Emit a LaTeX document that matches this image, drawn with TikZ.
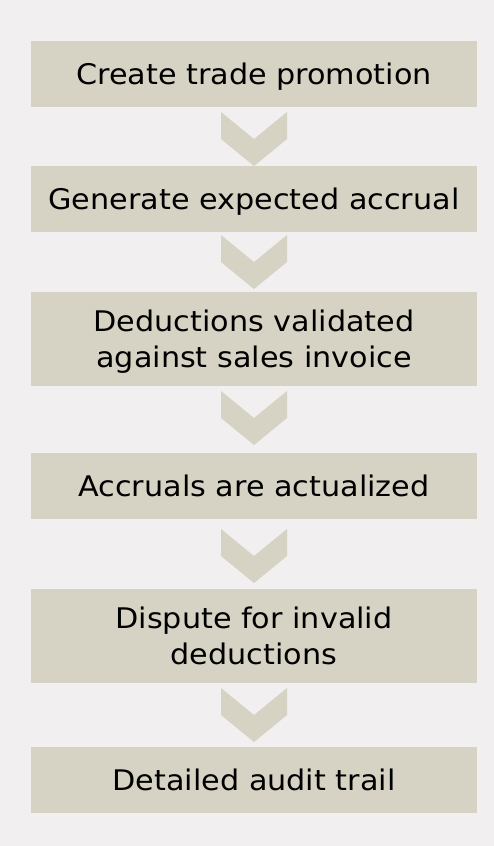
\documentclass[tikz,border=0pt]{standalone}
\usepackage{fontspec}
\setmainfont{DejaVu Sans}[FakeStretch=1.065]
\definecolor{bgc}{RGB}{241,239,239}
\definecolor{tan}{RGB}{214,211,196}
\tikzset{
  box/.style={rectangle, fill=tan, draw=none, minimum width=446pt, inner sep=0pt},
  txt/.style={anchor=base, align=center, inner sep=0pt, font=\fontsize{28.4}{36.6}\selectfont, text=black},
  chev/.pic={\fill[tan] (-33,0) -- (0,27) -- (33,0) -- (33,27) -- (0,54) -- (-33,27) -- cycle;}
}
\begin{document}
\begin{tikzpicture}[x=1pt, y=-1pt]
\fill[bgc] (0,0) rectangle (494,846);
\useasboundingbox (0,0) rectangle (494,846);
% boxes
\node[box, minimum height=66pt] (b1) at (254,74) {};
\node[box, minimum height=66pt] (b2) at (254,199) {};
\node[box, minimum height=94pt] (b3) at (254,339) {};
\node[box, minimum height=66pt] (b4) at (254,486) {};
\node[box, minimum height=94pt] (b5) at (254,636) {};
\node[box, minimum height=66pt] (b6) at (254,780) {};
% texts
\node[txt] (t1) at ([yshift=-10.3pt]b1.center) {Create trade promotion};
\node[txt] (t2) at ([yshift=-10.3pt]b2.center) {Generate expected accrual};
\node[txt] (t3) at ([yshift=-28.6pt]b3.center) {Deductions validated\\against sales invoice};
\node[txt] (t4) at ([yshift=-10.3pt]b4.center) {Accruals are actualized};
\node[txt] (t5) at ([yshift=-28.6pt]b5.center) {Dispute for invalid\\deductions};
\node[txt] (t6) at ([yshift=-10.3pt]b6.center) {Detailed audit trail};
% chevrons
\pic at (254,112) {chev};
\pic at (254,235) {chev};
\pic at (254,391) {chev};
\pic at (254,529) {chev};
\pic at (254,688) {chev};
\end{tikzpicture}
\end{document}
